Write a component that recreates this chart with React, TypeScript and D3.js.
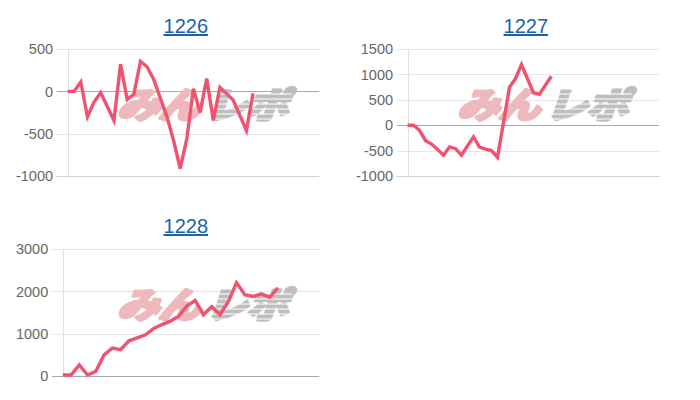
import React from 'react';
import * as d3 from 'd3';

// Machine numbers shown as panel titles
const titles = ['1226', '1227', '1228'];

// Cumulative medal difference per data point
const diff1226 = [0, 0, 110, -300, -126, -15, -180, -343, 320, -95, -35, 355, 290, 140, -80, -300, -579, -914, -560, 32, -250, 150, -343, 48, -27, -102, -284, -461, -24];
const diff1227 = [0, 0, -100, -305, -372, -478, -590, -428, -462, -590, -408, -230, -432, -470, -500, -630, 50, 745, 918, 1193, 920, 640, 610, 790, 965];
const diff1228 = [24, 24, 262, 24, 110, 500, 662, 622, 832, 902, 975, 1125, 1215, 1295, 1415, 1655, 1785, 1448, 1638, 1448, 1752, 2205, 1922, 1878, 1942, 1860, 2082];

// Y-axis tick values for each panel
const yTicks1226 = [-1000, -500, 0, 500];
const yTicks1227 = [-1000, -500, 0, 500, 1000, 1500];
const yTicks1228 = [0, 1000, 2000, 3000];

// Number of category slots on each x axis
const slotCounts = [39, 43, 32];

const LINE_COLOR = '#f0526f';
const TITLE_COLOR = '#1b62a6';
const TICK_COLOR = '#666666';
const FONT = '"Liberation Sans", Arial, Helvetica, sans-serif';
const TICK_FONT_SIZE = 14.5;

// Approximate Arial advance widths for numeric labels
const labelWidth = (s: string) =>
  s.split('').reduce((w, c) => w + (c === '-' ? 0.333 : 0.556), 0) * TICK_FONT_SIZE;

type PanelSpec = {
  title: string;
  values: number[];
  ticks: number[];
  slots: number;
  ox: number;
  oy: number;
};

const panels: PanelSpec[] = [
  { title: titles[0], values: diff1226, ticks: yTicks1226, slots: slotCounts[0], ox: 0, oy: 0 },
  { title: titles[1], values: diff1227, ticks: yTicks1227, slots: slotCounts[1], ox: 340, oy: 0 },
  { title: titles[2], values: diff1228, ticks: yTicks1228, slots: slotCounts[2], ox: 0, oy: 200 },
];

function Watermark({ cx, cy }: { cx: number; cy: number }) {
  const stripes = d3.range(6).map((i) => cy - 11 + i * 5);
  const common = {
    x: 0,
    y: 0,
    fontFamily: '"Noto Sans CJK JP", sans-serif',
    fontWeight: 900,
    fontSize: 42,
    strokeWidth: 3.2,
    strokeLinejoin: 'round' as const,
    letterSpacing: -1,
  };
  return (
    <g>
      <text
        {...common}
        transform={`translate(${cx - 3},${cy + 13}) scale(1,0.84) skewX(-16)`}
        textAnchor="end"
        fill="#edb9bd"
        stroke="#edb9bd"
      >
        みん
      </text>
      <text
        {...common}
        transform={`translate(${cx + 3},${cy + 13}) scale(1,0.84) skewX(-16)`}
        textAnchor="start"
        fill="#bebebe"
        stroke="#bebebe"
      >
        レポ
      </text>
      {stripes.map((y, i) => (
        <line key={i} x1={cx + 4} x2={cx + 90} y1={y} y2={y} stroke="#ffffff" strokeWidth={1.1} />
      ))}
    </g>
  );
}

function Panel({ spec }: { spec: PanelSpec }) {
  const { title, values, ticks, slots, ox, oy } = spec;
  const top = oy + 49;
  const bottom = oy + 176;
  const right = ox + 319.3;
  const labelLeft = ox + 16;
  const maxW = d3.max(ticks, (t) => labelWidth(String(t))) ?? 0;
  const left = labelLeft + maxW + 14.5;

  const y = d3.scaleLinear().domain(d3.extent(ticks) as [number, number]).range([bottom, top]);
  const x = d3.scalePoint<number>().domain(d3.range(slots)).range([left, right]);

  const line = d3
    .line<number>()
    .x((_, i) => x(i) as number)
    .y((d) => y(d));

  const lowest = d3.min(ticks) as number;

  return (
    <g>
      <text
        x={ox + 185.8}
        y={oy + 33}
        textAnchor="middle"
        fontFamily={FONT}
        fontSize={20}
        fill={TITLE_COLOR}
        textDecoration="underline"
      >
        {title}
      </text>

      {ticks.map((t) => {
        const yy = Math.round(y(t)) + 0.5;
        const stroke = t === 0 ? '#a9a9a9' : t === lowest ? '#cfcfcf' : '#e6e6e6';
        return (
          <g key={t}>
            <line x1={left - 11} x2={right} y1={yy} y2={yy} stroke={stroke} strokeWidth={1} />
            <text
              x={left - 14.5}
              y={y(t)}
              dy="0.36em"
              textAnchor="end"
              fontFamily={FONT}
              fontSize={TICK_FONT_SIZE}
              fill={TICK_COLOR}
            >
              {t}
            </text>
          </g>
        );
      })}
      <line
        x1={Math.round(left) + 0.5}
        x2={Math.round(left) + 0.5}
        y1={top}
        y2={bottom}
        stroke="#e0e0e0"
        strokeWidth={1}
      />

      <Watermark cx={ox + 202} cy={oy + 105} />

      <path d={line(values) ?? ''} fill="none" stroke={LINE_COLOR} strokeWidth={3.4} strokeLinejoin="miter" />
    </g>
  );
}

export default function App() {
  return (
    <svg
      width={700}
      height={400}
      viewBox="0 0 700 400"
      style={{ position: 'absolute', left: 0, top: 0, background: '#ffffff' }}
    >
      <rect width={700} height={400} fill="#ffffff" />
      {panels.map((p) => (
        <Panel key={p.title} spec={p} />
      ))}
    </svg>
  );
}
